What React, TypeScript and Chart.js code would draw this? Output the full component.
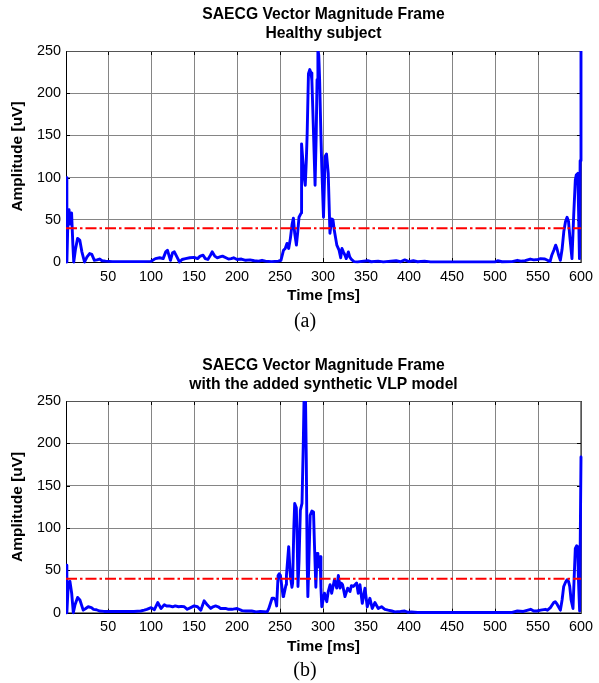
import React, { useEffect, useRef } from 'react';
import { Chart, registerables } from 'chart.js';

Chart.register(...registerables);

// ---------- data ----------
const xTicks = [50, 100, 150, 200, 250, 300, 350, 400, 450, 500, 550, 600];
const yTicks = [0, 50, 100, 150, 200, 250];
const thresholdUV = 40;

const titleA = ['SAECG Vector Magnitude Frame', 'Healthy subject'];
const titleB = ['SAECG Vector Magnitude Frame', 'with the added synthetic VLP model'];
const captionA = '(a)';
const captionB = '(b)';
const xLabel = 'Time [ms]';
const yLabel = 'Amplitude [uV]';

const timeA = [
  1, 2, 3, 4.5, 6, 7.5, 9, 10, 12, 14.5, 17, 19.5, 22.5, 25.5, 28.5, 31, 34, 37, 40, 43, 47, 55, 70, 90,
  100, 105, 110, 114, 117, 119, 121, 122.5, 125, 127, 130, 133, 136, 140, 145, 150, 154, 157, 160.5, 163,
  166, 169, 171, 174, 177, 180, 183, 187, 190, 193, 196, 200, 205, 210, 215, 220, 225, 229, 233, 240, 248,
  251, 254, 256, 258, 260, 262, 264, 265.5, 267, 269, 270.5, 272, 274.5, 275, 276.5, 278, 279.3, 280.5,
  281.5, 283, 284.5, 286, 287, 288.8, 290.7, 292, 293, 294, 295, 296, 297.5, 298.5, 300.5, 302.4, 304,
  306, 308, 310, 311.5, 313, 316, 318.6, 320.5, 322, 323.6, 325.5, 327, 329.4, 331, 333, 336, 340, 352,
  356, 364, 370, 385, 390, 395, 400, 405, 410, 418, 425, 500, 503, 508, 520, 526, 530, 535, 541, 545, 550,
  553, 558, 561, 564, 566, 568.4, 570.5, 572, 574, 576, 578, 580, 582, 583.8, 585.5, 587, 589.5, 591.5,
  593.4, 594.5, 596.3, 597.2, 598.2, 599, 600,
];
const ampA = [
  100, 0, 40, 62, 45, 58, 20, 0, 15, 28, 26, 12, 0, 6, 10, 9, 2, 2.5, 3.5, 1.5, 1, 0.5, 0.5, 0.5,
  0.8, 4, 5, 4, 12, 14, 7, 2, 11, 12, 6, 0, 3, 4, 5, 5.5, 4, 7, 8, 4,
  3, 8, 12, 7, 5, 6, 7, 5, 3.5, 4, 5, 3, 3.5, 2, 2.5, 1.5, 1, 2, 1, 0.5, 1,
  2, 14, 16, 22, 16, 28, 45, 52, 34, 20, 35, 53, 58, 140, 120, 100, 91, 120,
  152, 223, 228, 224, 215, 156, 91, 150, 216, 252, 245, 216, 150, 113, 53, 125, 128,
  105, 34, 51, 50, 38, 20, 14, 5, 16, 12, 8, 4, 12, 6, 3, 0.5, 0.2, 1.5,
  0.3, 1, 0.2, 1.5, 0.3, 2.5, 0.5, 1.5, 0.3, 1, 0.2, 0.2, 1.5, 0.3, 0.5, 2, 1, 1.5, 3.5, 2.5, 3,
  4, 3.5, 2, 0.5, 8, 14, 20, 16, 8, 2, 15, 36, 48, 53, 48, 30, 4, 55,
  97, 103, 105, 60, 4, 120, 255,
];

const timeB = [
  1, 2, 3.7, 5.6, 7.6, 9.5, 11.4, 14.5, 17.2, 21, 24, 26.8, 30.6, 33, 36.4, 40, 45, 60, 80, 88, 92, 95,
  100, 103.8, 107.7, 111.5, 115.4, 118, 121, 125, 128, 132, 135, 138.6, 142, 146, 150, 154, 157.8, 161.7,
  165.5, 169.4, 172, 175, 178, 180.8, 186.6, 190, 194, 197, 200, 205.8, 210, 217, 222, 227, 235,
  236.9, 240.7, 243, 244.6, 246, 247.7, 249, 250.4, 252.3, 253.5, 254.2, 256.9, 257.4, 260, 261, 262,
  263.8, 264.6, 266, 267, 268.9, 270, 270.8, 272, 273.6, 275.5, 277, 278, 279.5, 280.5, 281.5, 282.3,
  283.5, 285, 287, 288.9, 290, 291.6, 293, 294, 295.4, 296.6, 297.5, 298.5, 301.6, 304.3, 306, 308.2,
  310, 313.2, 315.9, 317.8, 319.7, 321, 322.7, 325.5, 328.6, 331.3, 333, 335.2, 339, 340.9, 342.9, 345.6,
  348.7, 351.4, 354.5, 357.2, 360.3, 364.2, 368, 371.9, 375.7, 380, 383.4, 390, 395, 399, 402.7, 410,
  520, 526, 533, 541.4, 545, 549, 553, 558.6, 561, 564.4, 568.3, 570, 572.2, 576, 578, 579.9, 582, 583.8,
  585.5, 586.9, 588.5, 590.7, 592, 593.4, 595, 596.1, 597, 598.4, 600,
];
const ampB = [
  56, 0, 35, 37, 23, 0, 9, 18, 15, 3, 5, 7, 6, 4, 3.5, 2, 1.5, 1.5, 1.5, 2, 3, 4,
  6, 3.5, 12, 5, 9.5, 8, 8, 7, 8, 7, 7.5, 7, 4, 6, 8, 7, 3, 14,
  9, 5, 7, 8, 7, 5, 5, 4, 4, 4.5, 5, 2.5, 2, 2, 1, 1.5, 1,
  5, 17, 17, 15, 8, 44, 46, 44, 29, 19, 20, 33, 44, 78, 60, 43,
  30, 35, 100, 129, 124, 80, 31, 60, 121, 129, 200, 260, 260, 180, 60, 19,
  60, 115, 120, 119, 80, 30, 70, 55, 54, 66, 30, 7, 23, 13, 25, 33,
  23, 39, 29, 44, 29, 35, 33, 19, 29, 25, 32, 31, 35, 23, 33, 11,
  29, 7, 17, 5, 12, 5, 7, 4, 3, 2, 1, 1.5, 2, 0.5, 1, 0.3,
  0.3, 2, 1.5, 4, 2, 2, 3, 4, 3, 6, 12, 13, 10, 3, 15, 31, 36, 39,
  37, 31, 15, 5, 40, 76, 79, 78, 40, 2, 184,
];

// ---------- styling ----------
const SANS = '"Liberation Sans", Arial, Helvetica, sans-serif';
const GRID = '#858585';

const framePlugin = {
  id: 'frame',
  beforeDatasetsDraw(chart: any) {
    const { ctx, chartArea: a, scales } = chart;
    const tl = 4;
    ctx.save();
    ctx.lineWidth = 1;
    ctx.strokeStyle = '#000';
    ctx.beginPath();
    scales.x.ticks.forEach((t: any) => {
      const px = Math.round(scales.x.getPixelForValue(t.value)) + 0.5;
      ctx.moveTo(px, a.bottom);
      ctx.lineTo(px, a.bottom - tl);
      ctx.moveTo(px, a.top);
      ctx.lineTo(px, a.top + tl);
    });
    scales.y.ticks.forEach((t: any) => {
      const py = Math.round(scales.y.getPixelForValue(t.value)) + 0.5;
      ctx.moveTo(a.left, py);
      ctx.lineTo(a.left + tl, py);
      ctx.moveTo(a.right, py);
      ctx.lineTo(a.right - tl, py);
    });
    ctx.stroke();
    const l = Math.round(a.left) + 0.5;
    const r = Math.round(a.right) + 0.5;
    const t = Math.round(a.top) + 0.5;
    const b = Math.round(a.bottom) + 0.5;
    ctx.strokeStyle = '#555';
    ctx.beginPath();
    ctx.moveTo(l, t);
    ctx.lineTo(r, t);
    ctx.lineTo(r, b);
    ctx.stroke();
    ctx.strokeStyle = '#000';
    ctx.beginPath();
    ctx.moveTo(l, t);
    ctx.lineTo(l, b);
    ctx.lineTo(r, b);
    ctx.stroke();
    ctx.restore();
  },
};

type Geo = {
  height: number;
  titlePadTop: number;
  titlePadBottom: number;
  xHeight: number;
  xTitlePadBottom: number;
};

function makeConfig(title: string[], time: number[], amp: number[], g: Geo): any {
  const points = time.map((x, i) => ({ x, y: amp[i] }));
  const thr = [
    { x: 1, y: thresholdUV },
    { x: 600, y: thresholdUV },
  ];
  return {
    type: 'line',
    data: {
      datasets: [
        {
          data: thr,
          borderColor: '#ff0000',
          borderWidth: 2,
          borderDash: [11, 3, 2.5, 3],
          pointRadius: 0,
          tension: 0,
          fill: false,
        },
        {
          data: points,
          borderColor: '#0000ff',
          borderWidth: 2.9,
          pointRadius: 0,
          tension: 0,
          fill: false,
          borderJoinStyle: 'round',
          borderCapStyle: 'round',
          clip: { left: 0, top: 0, right: 3, bottom: 3 },
        },
      ],
    },
    options: {
      responsive: false,
      devicePixelRatio: 1,
      animation: false,
      events: [],
      layout: { padding: { left: 0, right: 15, top: 0, bottom: 0 } },
      plugins: {
        legend: { display: false },
        tooltip: { enabled: false },
        title: {
          display: true,
          fullSize: false,
          text: title,
          color: '#000',
          font: { family: SANS, size: 15.7, weight: 'bold', lineHeight: '19px' },
          padding: { top: g.titlePadTop, bottom: g.titlePadBottom },
        },
      },
      scales: {
        x: {
          type: 'linear',
          min: 1,
          max: 600,
          afterBuildTicks: (s: any) => {
            s.ticks = xTicks.map((v) => ({ value: v }));
          },
          afterFit: (s: any) => {
            s.height = g.xHeight;
          },
          ticks: {
            autoSkip: false,
            maxRotation: 0,
            padding: 6,
            color: '#000',
            font: { family: SANS, size: 14.4 },
          },
          grid: { color: GRID, lineWidth: 1, drawTicks: false },
          border: { display: false },
          title: {
            display: true,
            text: xLabel,
            color: '#000',
            font: { family: SANS, size: 15.5, weight: 'bold' },
            padding: { top: 0, bottom: g.xTitlePadBottom },
          },
        },
        y: {
          type: 'linear',
          min: 0,
          max: 250,
          afterBuildTicks: (s: any) => {
            s.ticks = yTicks.map((v) => ({ value: v }));
          },
          afterFit: (s: any) => {
            s.width = 66;
          },
          ticks: {
            autoSkip: false,
            padding: 5,
            color: '#000',
            font: { family: SANS, size: 14.4 },
          },
          grid: { color: GRID, lineWidth: 1, drawTicks: false },
          border: { display: false },
          title: {
            display: true,
            text: yLabel,
            color: '#000',
            font: { family: SANS, size: 15.5, weight: 'bold' },
            padding: { top: 8.7, bottom: 0 },
          },
        },
      },
    },
    plugins: [framePlugin],
  };
}

function Panel(props: { title: string[]; time: number[]; amp: number[]; geo: Geo; top: number }) {
  const ref = useRef<HTMLCanvasElement | null>(null);
  useEffect(() => {
    if (!ref.current) return;
    const chart = new Chart(ref.current, makeConfig(props.title, props.time, props.amp, props.geo));
    return () => chart.destroy();
  }, []);
  return (
    <canvas
      ref={ref}
      width={599}
      height={props.geo.height}
      style={{ position: 'absolute', left: 0, top: props.top, width: 599, height: props.geo.height }}
    />
  );
}

const captionStyle = (top: number): React.CSSProperties => ({
  position: 'absolute',
  left: 305,
  top,
  transform: 'translateX(-50%)',
  fontFamily: '"Liberation Serif", "Times New Roman", serif',
  fontSize: 20,
  lineHeight: '20px',
  color: '#000',
  whiteSpace: 'nowrap',
});

export default function App() {
  return (
    <div style={{ position: 'absolute', left: 0, top: 0, width: 599, height: 683, background: '#fff', overflow: 'hidden' }}>
      <Panel
        title={titleA}
        time={timeA}
        amp={ampA}
        top={0}
        geo={{ height: 310, titlePadTop: 5.5, titlePadBottom: 7.5, xHeight: 48, xTitlePadBottom: 5 }}
      />
      <div style={captionStyle(310)}>{captionA}</div>
      <Panel
        title={titleB}
        time={timeB}
        amp={ampB}
        top={335}
        geo={{ height: 325, titlePadTop: 20.8, titlePadBottom: 7.2, xHeight: 47.3, xTitlePadBottom: 3.5 }}
      />
      <div style={captionStyle(659)}>{captionB}</div>
    </div>
  );
}
